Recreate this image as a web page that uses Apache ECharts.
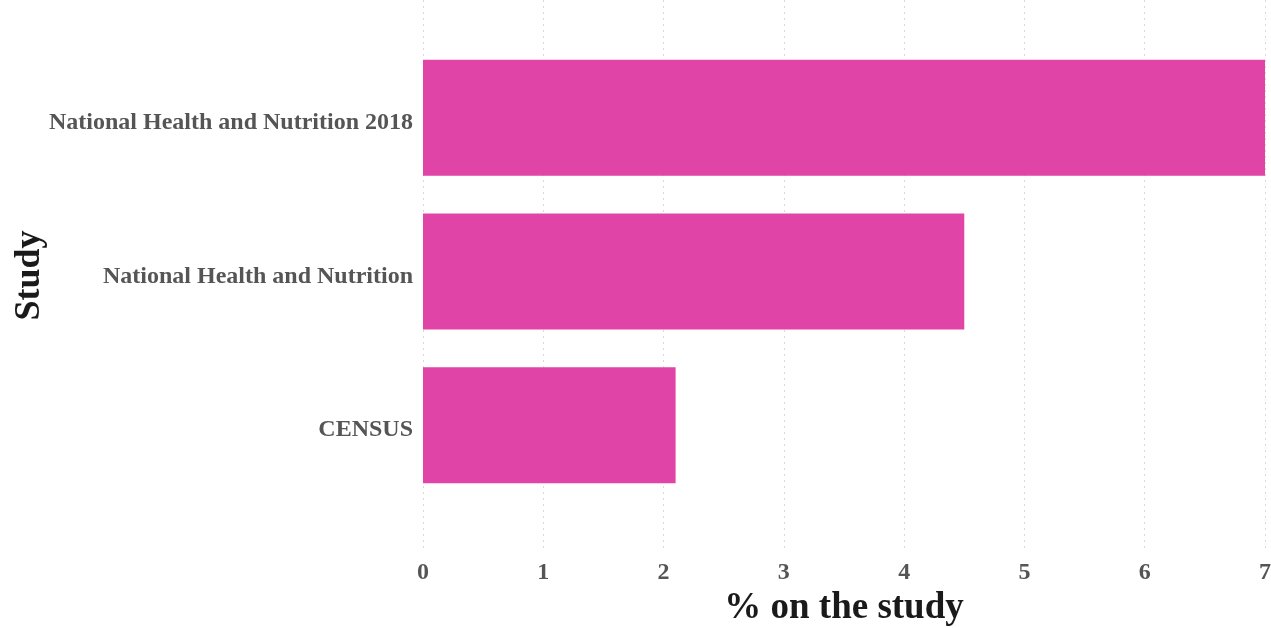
<!DOCTYPE html>
<html>
<head>
<meta charset="utf-8">
<script src="https://cdn.jsdelivr.net/npm/echarts@6/dist/echarts.min.js"></script>
<style>html,body{margin:0;padding:0;background:#fff}#c{width:1271px;height:628px}</style>
</head>
<body>
<div id="c"></div>
<script>
var categories = ['National Health and Nutrition 2018', 'National Health and Nutrition', 'CENSUS'];
var values = [7.0, 4.5, 2.1];
var xTicks = [0, 1, 2, 3, 4, 5, 6, 7];

var FONT = '"Liberation Serif", "Times New Roman", serif';
var chart = echarts.init(document.getElementById('c'));
chart.setOption({
  backgroundColor: '#fff',
  animation: false,
  grid: [
    {left: 423, right: 6, top: 0, bottom: 77, outerBoundsMode: 'none', containLabel: false},
    {left: 423, right: 6, top: 41, bottom: 126, outerBoundsMode: 'none', containLabel: false}
  ],
  xAxis: [
    {gridIndex: 0, type: 'value', min: xTicks[0], max: xTicks[xTicks.length - 1], interval: 1,
     axisLine: {show: false}, axisTick: {show: false},
     splitLine: {show: true, lineStyle: {color: '#d9d9d9', type: [2, 4], width: 1}},
     axisLabel: {fontFamily: FONT, fontWeight: 'bold', fontSize: 24, color: '#555', margin: 10},
     name: '% on the study', nameLocation: 'middle', nameGap: 36,
     nameTextStyle: {fontFamily: FONT, fontWeight: 'bold', fontSize: 37, color: '#1a1a1a'}},
    {gridIndex: 1, type: 'value', min: 0, max: 7, show: false}
  ],
  yAxis: [
    {gridIndex: 0, type: 'value', min: 0, max: 1,
     axisLine: {show: false}, axisTick: {show: false}, axisLabel: {show: false}, splitLine: {show: false},
     name: 'Study', nameLocation: 'middle', nameGap: 375, nameRotate: 90,
     nameTextStyle: {fontFamily: FONT, fontWeight: 'bold', fontSize: 36, color: '#1a1a1a'}},
    {gridIndex: 1, type: 'category', data: categories, inverse: true,
     axisLine: {show: false}, axisTick: {show: false}, splitLine: {show: false},
     axisLabel: {margin: 10, formatter: function (v) { return '{a|' + v + '}'; },
                 rich: {a: {fontFamily: FONT, fontWeight: 'bold', fontSize: 24, color: '#555',
                            padding: [10, 0, 0, 0]}}}}
  ],
  series: [{
    type: 'bar', xAxisIndex: 1, yAxisIndex: 1, data: values, barWidth: 116,
    itemStyle: {color: '#E044A6'}
  }]
});
</script>
</body>
</html>
